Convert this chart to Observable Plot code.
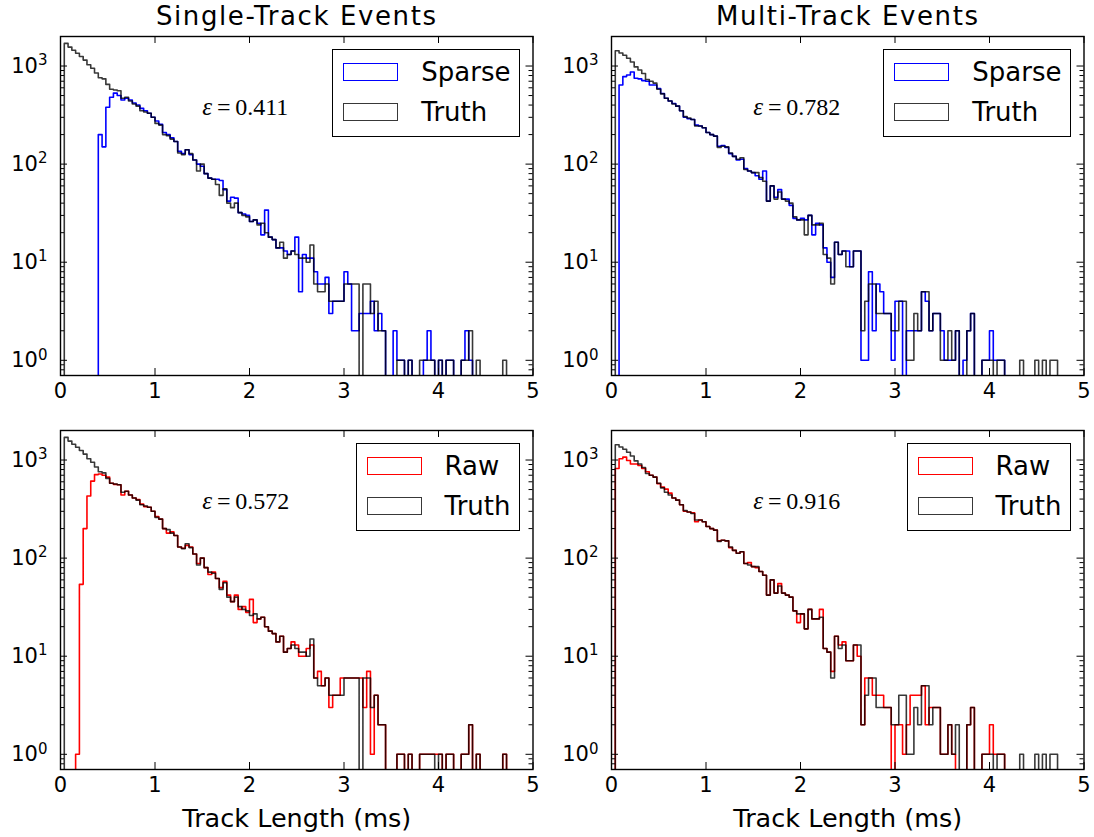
<!DOCTYPE html>
<html>
<head>
<meta charset="utf-8">
<script src="https://cdn.jsdelivr.net/npm/d3@7"></script>
<script src="https://cdn.jsdelivr.net/npm/@observablehq/plot@0.6"></script>
<style>
  body { margin: 0; background: #fff; }
  #fig { position: relative; width: 1094px; height: 837px; font-family: "DejaVu Sans", sans-serif; background: #fff; overflow: hidden; }
  .panel { position: absolute; }
  .legend { position: absolute; border: 1.2px solid #000; background: #fff; padding: 2px 8px 4px 10px; box-sizing: border-box; }
  .legend .row { display: flex; align-items: center; height: 40px; }
  .legend .patch { width: 55px; height: 18.5px; box-sizing: border-box; margin-right: 23px; }
  .legend .lab { font-size: 26px; line-height: 1; white-space: nowrap; }
</style>
</head>
<body>
<div id="fig"></div>
<script>
// ---------------- data (histogram counts, bins of 0.04 ms starting at 0) ----------------
const binWidth = 0.04;
const xTickValues = [0, 1, 2, 3, 4, 5];
const yMajorTicks = [1, 10, 100, 1000];
const yMinorTicks = [0.8, 0.9, 2, 3, 4, 5, 6, 7, 8, 9, 20, 30, 40, 50, 60, 70, 80, 90, 200, 300, 400, 500, 600, 700, 800, 900];
const panelTitles = ["Single-Track Events", "Multi-Track Events"];
const xAxisLabel = "Track Length (ms)";
const legendNames = ["Sparse", "Raw", "Truth"];
const efficiencies = ["0.411", "0.782", "0.572", "0.916"];

const truthSingle = [
  0, 1700, 1560, 1450, 1350, 1250, 1150, 1030, 950, 850,
  760, 740, 650, 580, 570, 560, 470, 480, 440, 410,
  390, 350, 340, 330, 300, 260, 250, 200, 195, 180,
  170, 130, 125, 140, 128, 110, 85, 100, 80, 72,
  70, 62, 48, 56, 40, 36, 40, 32, 30, 29,
  26, 27, 24, 25, 20, 18, 17, 14, 16, 11,
  12, 13, 12, 11, 11, 10, 15, 6, 5, 5,
  6, 4, 4, 4, 4, 6, 6, 6, 6, 0,
  6, 6, 3, 4, 2, 2, 0, 0, 0, 1,
  1, 0, 1, 0, 0, 1, 1, 1, 1, 0,
  1, 0, 1, 1, 0, 0, 1, 1, 2, 0,
  1, 0, 0, 0, 0, 0, 0, 1
];
const sparseSingle = [
  0, 0, 0, 0, 0, 0, 0, 0, 0, 0,
  200, 150, 380, 480, 530, 500, 450, 470, 450, 420,
  400, 370, 350, 330, 300, 275, 255, 210, 200, 185,
  170, 135, 128, 140, 125, 110, 100, 95, 80, 72,
  70, 70, 68, 55, 42, 46, 45, 32, 31, 30,
  26, 27, 25, 19, 34, 18, 17, 14, 14, 13,
  12, 13, 18, 5, 12, 11, 11, 8, 6, 6,
  7, 3, 4, 4, 4, 8, 6, 2, 2, 3,
  3, 3, 4, 2, 3, 2, 0, 0, 2, 1,
  1, 0, 1, 0, 0, 0, 1, 2, 1, 0,
  1, 0, 1, 1, 0, 0, 1, 2, 1, 0,
  0, 0, 0, 0, 0, 0, 0, 0
];
const rawSingle = [
  0, 0, 0, 0, 1, 54, 200, 430, 610, 710,
  720, 700, 670, 580, 565, 560, 440, 480, 440, 410,
  395, 355, 335, 330, 300, 265, 250, 200, 180, 185,
  170, 130, 126, 135, 130, 110, 88, 100, 80, 68,
  72, 62, 50, 58, 42, 36, 42, 30, 32, 28,
  38, 22, 24, 25, 20, 18, 17, 14, 16, 11,
  12, 14, 13, 10, 10, 12, 13, 6, 7, 5,
  6, 3, 4, 4, 6, 6, 6, 6, 6, 6,
  3, 7, 1, 4, 2, 2, 0, 0, 0, 1,
  1, 0, 1, 0, 0, 1, 1, 1, 1, 1,
  1, 0, 1, 1, 0, 0, 1, 1, 2, 0,
  1, 0, 0, 0, 0, 0, 0, 1
];
const truthMulti = [
  0, 1430, 1360, 1290, 1200, 1100, 980, 910, 840, 730,
  700, 670, 580, 520, 470, 440, 410, 390, 350, 305,
  295, 285, 245, 245, 235, 210, 200, 193, 148, 152,
  150, 130, 120, 112, 116, 88, 85, 82, 82, 73,
  67, 42, 60, 44, 52, 44, 42, 40, 29, 27,
  27, 19, 30, 24, 24, 25, 12, 11, 6, 16,
  12, 13, 9, 9, 13, 13, 2, 4, 6, 6,
  3, 3, 3, 3, 2, 2, 4, 4, 1, 1,
  3, 2, 5, 5, 2, 3, 3, 1, 1, 2,
  1, 2, 0, 0, 2, 3, 0, 0, 1, 1,
  1, 0, 1, 1, 0, 0, 0, 0, 1, 0,
  0, 0, 1, 0, 1, 0, 1, 1
];
const sparseMulti = [
  0, 0, 640, 780, 810, 870, 750, 740, 710, 700,
  640, 640, 590, 525, 470, 440, 415, 390, 350, 300,
  290, 285, 250, 245, 235, 210, 200, 193, 152, 155,
  148, 128, 120, 110, 112, 90, 85, 82, 76, 70,
  85, 42, 60, 46, 55, 44, 44, 38, 28, 27,
  28, 27, 30, 19, 25, 24, 14, 10, 7, 16,
  12, 13, 13, 9, 13, 13, 1, 1, 8, 2,
  6, 5, 3, 3, 1, 4, 4, 0, 2, 2,
  2, 2, 5, 4, 2, 3, 3, 2, 1, 1,
  1, 2, 0, 1, 2, 3, 0, 0, 1, 1,
  2, 1, 1, 1, 0, 0, 0, 0, 0, 0,
  0, 0, 0, 0, 0, 0, 0, 0
];
const rawMulti = [
  0, 820, 1030, 1070, 990, 910, 910, 880, 820, 760,
  700, 670, 575, 530, 505, 460, 410, 390, 350, 300,
  295, 290, 235, 245, 235, 210, 200, 193, 150, 152,
  150, 128, 120, 112, 116, 88, 90, 82, 80, 73,
  67, 42, 60, 44, 55, 44, 42, 40, 29, 22,
  27, 19, 30, 24, 24, 30, 12, 11, 7, 16,
  13, 14, 9, 9, 13, 10, 2, 6, 6, 4,
  4, 4, 3, 3, 0, 2, 2, 1, 2, 4,
  4, 4, 5, 2, 3, 3, 3, 1, 1, 2,
  1, 0, 0, 0, 2, 3, 0, 0, 1, 1,
  2, 1, 1, 1, 0, 0, 0, 0, 0, 0,
  0, 0, 0, 0, 0, 0, 0, 0
];

// ---------------- drawing ----------------
const FLOOR = 0.3; // empty bins fall below the log axis and are clipped
function stepPoints(counts) {
  const first = counts.findIndex(v => v > 0);
  let last = counts.length - 1;
  while (last > 0 && counts[last] === 0) last--;
  const pts = [{x: first * binWidth, y: FLOOR}];
  for (let i = first; i <= last; i++) pts.push({x: i * binWidth, y: counts[i] > 0 ? counts[i] : FLOOR});
  pts.push({x: (last + 1) * binWidth, y: FLOOR});
  return pts;
}

const FW = 472.5, FH = 339, COLW = 547;
const BLUE = "#0000ff", RED = "#ff0000", TRUTH = "rgba(0,0,0,0.78)";
const panels = [
  {left: 0,   top: 0,   ml: 60, mt: 36, mb: 30, title: panelTitles[0], reco: sparseSingle, truth: truthSingle, color: BLUE, name: legendNames[0], eps: efficiencies[0]},
  {left: 547, top: 0,   ml: 64, mt: 36, mb: 30, title: panelTitles[1], reco: sparseMulti,  truth: truthMulti,  color: BLUE, name: legendNames[0], eps: efficiencies[1]},
  {left: 0,   top: 405, ml: 60, mt: 25, mb: 68, xlabel: xAxisLabel,     reco: rawSingle,    truth: truthSingle, color: RED,  name: legendNames[1], eps: efficiencies[2]},
  {left: 547, top: 405, ml: 64, mt: 25, mb: 68, xlabel: xAxisLabel,     reco: rawMulti,     truth: truthMulti,  color: RED,  name: legendNames[1], eps: efficiencies[3]}
];

const fig = document.getElementById("fig");
for (const p of panels) {
  const mr = COLW - p.ml - FW;
  const height = p.mt + FH + p.mb;
  const marks = [
    Plot.line(stepPoints(p.reco), {x: "x", y: "y", curve: "step-after", stroke: p.color, strokeWidth: 1.6, clip: true}),
    Plot.line(stepPoints(p.truth), {x: "x", y: "y", curve: "step-after", stroke: "#000", strokeOpacity: 0.78, strokeWidth: 1.6, clip: true}),
    Plot.frame({stroke: "#000", strokeWidth: 1.4}),
    Plot.tickX(xTickValues, {x: d => d, insetTop: FH - 7, stroke: "#000"}),
    Plot.tickX(xTickValues, {x: d => d, insetBottom: FH - 7, stroke: "#000"}),
    Plot.tickY(yMajorTicks, {y: d => d, insetRight: FW - 7, stroke: "#000"}),
    Plot.tickY(yMajorTicks, {y: d => d, insetLeft: FW - 7, stroke: "#000"}),
    Plot.tickY(yMinorTicks, {y: d => d, insetRight: FW - 4, stroke: "#000"}),
    Plot.tickY(yMinorTicks, {y: d => d, insetLeft: FW - 4, stroke: "#000"}),
    Plot.text(xTickValues, {x: d => d, frameAnchor: "bottom", lineAnchor: "top", dy: 8, text: d => String(d), fontSize: 21, fill: "#000"}),
    Plot.text(yMajorTicks, {y: d => d, frameAnchor: "left", textAnchor: "end", lineAnchor: "middle", dx: -13, text: d => "10^" + Math.round(Math.log10(d)), fontSize: 21, fill: "#000"}),
    Plot.text([{x: 1.5, y: 380, t: "ε=" + p.eps}], {x: "x", y: "y", text: "t", textAnchor: "start", lineAnchor: "middle", fontSize: 24, fontFamily: "DejaVu Serif, Liberation Serif, serif", fill: "#000"})
  ];
  if (p.title) marks.push(Plot.text([p.title], {frameAnchor: "top", lineAnchor: "bottom", dy: -11.5, text: d => d, fontSize: 26, fill: "#000"}));
  if (p.xlabel) marks.push(Plot.text([p.xlabel], {frameAnchor: "bottom", lineAnchor: "bottom", dy: 57.5, text: d => d, fontSize: 25.5, fill: "#000"}));

  const svg = Plot.plot({
    width: COLW, height,
    marginLeft: p.ml, marginRight: mr, marginTop: p.mt, marginBottom: p.mb,
    x: {domain: [0, 5], axis: null},
    y: {type: "log", domain: [0.7, 2000], axis: null},
    style: {fontFamily: "DejaVu Sans", background: "transparent", overflow: "visible"},
    marks
  });
  svg.classList.add("panel");
  svg.style.left = p.left + "px";
  svg.style.top = p.top + "px";

  // rich text: superscript exponents, italic epsilon, title letter spacing
  d3.select(svg).selectAll("text").each(function () {
    const s = this.textContent;
    const m = /^10\^(\d)$/.exec(s);
    if (m) {
      this.textContent = "10";
      d3.select(this).append("tspan").attr("dy", "-0.5em").attr("font-size", "15px").text(m[1]);
    } else if (s.startsWith("ε=")) {
      const v = s.slice(2);
      this.textContent = "";
      d3.select(this).append("tspan").attr("font-style", "italic").attr("font-family", "Liberation Serif").attr("font-size", "25px").text("ε");
      d3.select(this).append("tspan").attr("font-family", "Liberation Serif").text("\u2009=\u2009" + v);
    } else if (panelTitles.includes(s)) {
      this.setAttribute("letter-spacing", "1.6px");
    }
  });
  fig.appendChild(svg);

  // legend (upper right inside the axes)
  const frameRight = p.left + p.ml + FW;
  const frameTop = p.top + p.mt;
  const lg = document.createElement("div");
  lg.className = "legend";
  lg.style.right = (1094 - (frameRight - 13)) + "px";
  lg.style.top = (frameTop + 13) + "px";
  const rows = [[p.name, p.color], [legendNames[2], TRUTH]];
  for (const [name, col] of rows) {
    const row = document.createElement("div");
    row.className = "row";
    const patch = document.createElement("div");
    patch.className = "patch";
    patch.style.border = "1.5px solid " + col;
    const lab = document.createElement("div");
    lab.className = "lab";
    lab.textContent = name;
    row.appendChild(patch);
    row.appendChild(lab);
    lg.appendChild(row);
  }
  fig.appendChild(lg);
}
</script>
</body>
</html>
